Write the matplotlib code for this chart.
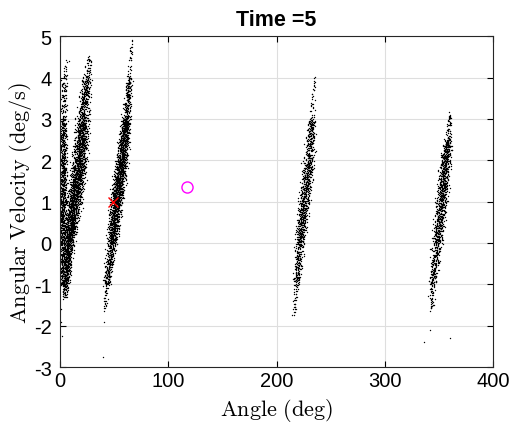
import numpy as np
import matplotlib
matplotlib.use("Agg")
import matplotlib.pyplot as plt

plt.rcParams['mathtext.fontset'] = 'cm'
plt.rcParams['axes.unicode_minus'] = False

# streaks of particles: velocity levels, centre angle and half width at each level,
# and a rough number of dots between consecutive levels
streak_a_vel = [-1.0, 0.0, 1.0, 2.0, 3.0, 4.0, 4.4]
streak_a_ang = [1.5, 2.0, 2.5, 3.0, 3.0, 4.0, 6.0]
streak_a_hw = [4.0, 4.0, 3.5, 3.5, 3.5, 3.0, 2.0]
streak_a_n = [180, 230, 240, 180, 80, 15]

streak_b_vel = [-1.3, -1.0, 0.0, 1.0, 2.0, 3.0, 4.0, 4.5]
streak_b_ang = [4.0, 5.0, 8.0, 13.0, 18.0, 21.0, 24.5, 27.0]
streak_b_hw = [2.5, 3.5, 5.0, 7.0, 7.0, 6.0, 4.5, 2.5]
streak_b_n = [50, 360, 600, 630, 500, 250, 40]

streak_c_vel = [-1.6, -1.0, 0.0, 1.0, 2.0, 3.0, 4.0, 4.9]
streak_c_ang = [41.0, 43.0, 48.0, 52.0, 57.0, 61.0, 64.0, 66.0]
streak_c_hw = [2.0, 3.0, 5.0, 6.0, 5.5, 4.0, 2.5, 1.0]
streak_c_n = [30, 230, 460, 580, 470, 180, 25]

streak_d_vel = [-1.7, -1.0, 0.0, 1.0, 2.0, 3.0, 4.0]
streak_d_ang = [216.0, 218.5, 221.5, 225.5, 230.0, 232.5, 235.0]
streak_d_hw = [1.5, 3.0, 4.5, 5.5, 5.0, 3.5, 1.0]
streak_d_n = [30, 170, 280, 300, 200, 30]

streak_e_vel = [-1.6, -1.0, 0.0, 1.0, 2.0, 2.5, 3.1]
streak_e_ang = [343.0, 344.0, 348.5, 352.5, 356.0, 358.5, 360.0]
streak_e_hw = [2.0, 3.5, 5.0, 5.5, 5.0, 3.5, 1.0]
streak_e_n = [40, 180, 290, 340, 160, 50]

# stray dots outside the streaks
stray_ang = [39.5, 40.5, 1.0, 1.0, 1.5, 342.0, 336.0, 360.0, 216.0, 217.0, 66.0, 65.5, 65.0]
stray_vel = [-2.76, -1.9, -1.6, -1.9, -2.25, -2.1, -2.4, -2.3, -1.75, -1.55, 4.8, 4.6, 4.5]

mean_ang, mean_vel = 117.0, 1.36
target_ang, target_vel = 49.0, 0.98


def halton(i, base):
    f, r = 1.0, np.zeros(len(i))
    i = i.copy()
    while np.any(i > 0):
        f /= base
        r += f * (i % base)
        i //= base
    return r


def streak(vel, ang, hw, counts, start):
    xs, ys = [], []
    for k, n in enumerate(counts):
        i = np.arange(start, start + n)
        start += n
        u = halton(i, 2)
        w = halton(i, 3) + halton(i, 5) + halton(i, 7) - 1.5
        jit = halton(i, 11) - 0.5
        v = vel[k] + u * (vel[k + 1] - vel[k]) + 0.15 * jit
        c = np.interp(v, vel, ang)
        h = np.interp(v, vel, hw)
        xs.append(c + h * w * 0.95)
        ys.append(v)
    return np.concatenate(xs), np.concatenate(ys)


fig = plt.figure(figsize=(5.14, 4.27), dpi=100)
ax = fig.add_axes([0.117, 0.138, 0.842, 0.775])

start = 1
for s in [(streak_a_vel, streak_a_ang, streak_a_hw, streak_a_n),
          (streak_b_vel, streak_b_ang, streak_b_hw, streak_b_n),
          (streak_c_vel, streak_c_ang, streak_c_hw, streak_c_n),
          (streak_d_vel, streak_d_ang, streak_d_hw, streak_d_n),
          (streak_e_vel, streak_e_ang, streak_e_hw, streak_e_n)]:
    x, y = streak(*s, start)
    start += 7919
    ax.plot(x, y, 'k.', ms=2.0, mew=0)
ax.plot(stray_ang, stray_vel, 'k.', ms=2.0, mew=0)

ax.plot(target_ang, target_vel, 'x', color='red', ms=7, mew=1)
ax.plot(mean_ang, mean_vel, 'o', mfc='none', mec='magenta', ms=8, mew=1)

ax.set_xlim(0, 400)
ax.set_ylim(-3, 5)
ax.set_xticks([0, 100, 200, 300, 400])
ax.set_yticks(range(-3, 6))
ax.grid(True, color='#dedede', lw=0.8)
ax.set_axisbelow(True)
ax.tick_params(direction='in', top=True, right=True, length=4, labelsize=14.5)
ax.tick_params(axis='y', pad=6)
ax.tick_params(axis='x', pad=3)
for lab in ax.get_xticklabels() + ax.get_yticklabels():
    lab.set_family('Liberation Sans')
for sp in ax.spines.values():
    sp.set_color('#262626')
    sp.set_linewidth(0.8)

ax.set_xlabel(r'$\mathrm{Angle\ (deg)}$', fontsize=16, labelpad=4)
ax.set_ylabel(r'$\mathrm{Angular\ Velocity\ (deg/s)}$', fontsize=16, labelpad=0)
ax.set_title('Time =5', fontsize=15.5, fontweight='bold', family='Liberation Sans', pad=8)

fig.savefig('out.png', dpi=100)
